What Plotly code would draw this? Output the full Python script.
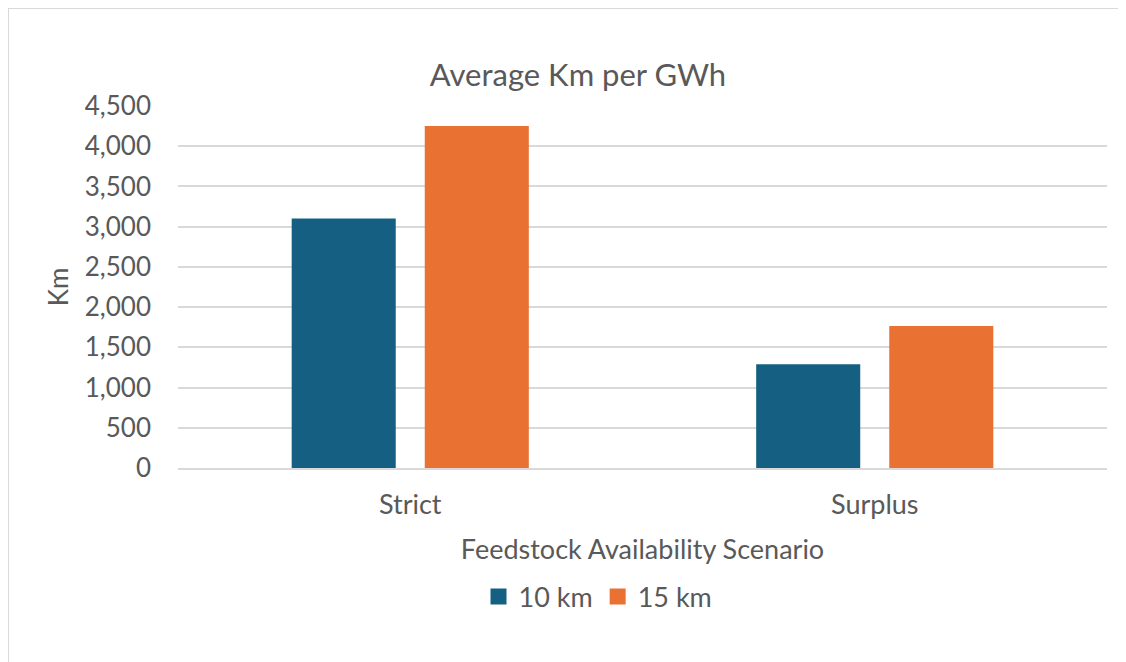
import plotly.graph_objects as go

scenarios = ["Strict", "Surplus"]
km_10 = [3100, 1290]
km_15 = [4250, 1765]

series_names = ["10 km", "15 km"]
series_colors = ["#156082", "#E97132"]

TEXT = "#595959"
FONT = "Lato"

fig = go.Figure()

for name, values, color in zip(series_names, [km_10, km_15], series_colors):
    fig.add_trace(
        go.Bar(
            x=scenarios,
            y=values,
            name=name,
            marker=dict(color=color, line=dict(width=0)),
            showlegend=False
        )
    )

# square legend keys, Excel style
for name, color in zip(series_names, series_colors):
    fig.add_trace(
        go.Scatter(
            x=[None],
            y=[None],
            mode="markers",
            name=name,
            marker=dict(symbol="square", size=17, color=color)
        )
    )

# the page body has an 8px margin, so the figure is 8px smaller
fig.update_layout(
    width=1118,
    height=654,
    margin=dict(l=170, r=19, t=98, b=194),
    paper_bgcolor="white",
    plot_bgcolor="white",
    font=dict(family=FONT, size=27, color=TEXT),
    title=dict(
        text="Average Km per GWh",
        x=570 / 1118,
        xref="container",
        xanchor="center",
        y=1 - 67 / 654,
        yref="container",
        yanchor="middle",
        font=dict(size=31, color=TEXT)
    ),
    barmode="group",
    bargap=0.427,
    bargroupgap=0.218,
    showlegend=True,
    legend=dict(
        orientation="h",
        x=(590 - 170) / 929,
        xanchor="center",
        y=(460 - 589) / 362,
        yanchor="middle",
        font=dict(size=27, color=TEXT),
        itemwidth=30,
        tracegroupgap=0
    ),
    xaxis=dict(
        title=dict(text="Feedstock Availability Scenario", standoff=21, font=dict(size=27, color=TEXT)),
        showgrid=False,
        showline=True,
        linecolor="#D9D9D9",
        linewidth=1.5,
        ticks="",
        ticklabelstandoff=12
    ),
    yaxis=dict(
        title=dict(text="Km", standoff=8, font=dict(size=26, color=TEXT)),
        range=[0, 4500],
        dtick=500,
        tickformat=",",
        tickfont=dict(size=26, color=TEXT),
        showgrid=True,
        gridcolor="#D9D9D9",
        gridwidth=1.5,
        zeroline=False,
        ticks="",
        ticklabelstandoff=26
    ),
    shapes=[
        dict(
            type="rect",
            xref="paper",
            yref="paper",
            x0=(0 - 170) / 929,
            x1=(1130 - 170) / 929,
            y0=(460 - 670) / 362,
            y1=(460 - 0) / 362,
            line=dict(color="#D9D9D9", width=2),
            fillcolor="rgba(0,0,0,0)",
            layer="below"
        )
    ]
)

fig.write_html("out.html")
